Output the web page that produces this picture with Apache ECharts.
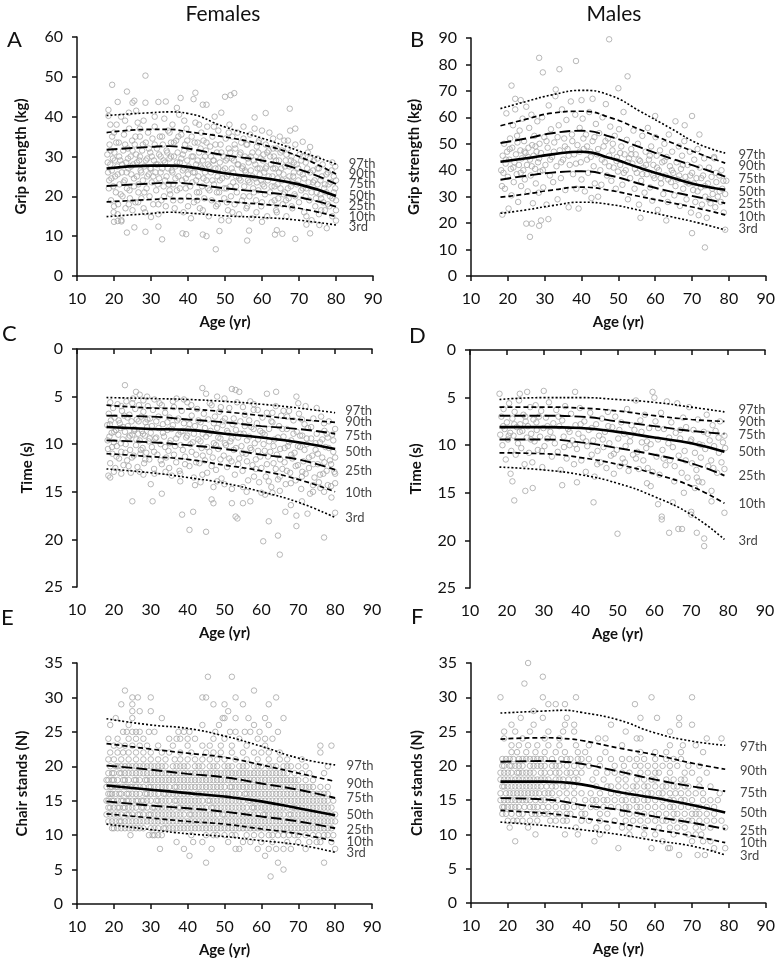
<!DOCTYPE html>
<html><head><meta charset="utf-8">
<script src="https://cdn.jsdelivr.net/npm/echarts@6/dist/echarts.min.js"></script>
<style>html,body{margin:0;padding:0;background:#fff}#c{width:778px;height:964px}</style>
</head><body><div id="c"></div>
<script>
// ---------- DATA ----------
const percentileNames = ['97th','90th','75th','50th','25th','10th','3rd'];
const xTicks = [10,20,30,40,50,60,70,80,90];

// Panel A: Females grip strength
const ageA = [18,30,35,40,50,60,70,80];
const curvesA = [
 [40.3,41.0,41.2,40.8,37.4,34.6,31.4,28.1],
 [36.0,36.8,36.8,36.2,34.9,33.0,30.0,25.6],
 [31.7,32.4,32.6,32.0,30.3,29.0,26.8,23.1],
 [27.0,27.7,27.7,27.4,25.8,24.6,23.0,20.1],
 [22.6,23.2,23.4,23.2,22.0,21.1,19.8,17.4],
 [18.6,19.2,19.4,19.4,18.7,18.0,17.0,14.9],
 [14.9,15.7,16.0,15.8,15.1,14.7,14.0,12.8]];
const labelYA = [28.1,25.6,23.1,20.1,17.6,14.8,12.3];
const labelXA = 83.4;
const pointsA = [
[19.5,48],[21,43.7],[23.5,46.3],[25.5,44],[28.5,50.3],[28.5,43.5],[32,43.7],[34,43.8],[38,44.7],[41.5,44.4],[42,46],[44,43],[45,43],[49,41],[50,45],[51.5,45.4],[52.5,45.9],[58,39.8],[61,40.9],[67.5,42],[69,37],[71,33.7],[73,32.4],[18.5,41.7],[25,43.5],[26,41.5],[37,42.2],
[23.5,10.9],[25.5,12.2],[28.5,11.1],[33,9.2],[38.5,10.7],[39.5,10.5],[44,10.4],[45,10],[47.5,6.7],[48.5,11.3],[51,13.9],[56,8.9],[56.5,11.4],[60,13.6],[63.5,10.4],[64,11.5],[65.5,10.6],[69,9.3],[72,12.9],[73,10.7],[75.5,12.8],[77.5,12],[80,13.9],[20,13.6],[21,13.8],[22,13.7],[30,14.8],[32,12.4],
[18.2,30.5],[18.4,26],[18.6,22],[18.8,33],[19,28],[19.2,19],[19.3,24.5],[19.5,35],[19.7,29.5],[19.9,16],[20.1,31],[20.3,25],[20.5,21],[20.7,38],[20.9,27.5],[21.1,18],[21.3,33.5],[21.5,23],[21.7,29],[21.9,40],[22.1,26],[22.3,20],[22.5,31.5],[22.7,35.5],[22.9,24],[23.1,17],[23.3,28.5],[23.5,22],[23.7,32],[23.9,27],[24.1,37],[24.3,19.5],[24.5,30],[24.7,25.5],[24.9,34],[18.5,40.2],[20,36],[21,15.5],[22,14],[24,41],[25,16.5],
[25.2,28],[25.4,22.5],[25.6,33],[25.8,18.5],[26,30.5],[26.2,25],[26.4,38.5],[26.6,21],[26.8,29],[27,35],[27.2,26.5],[27.4,19.5],[27.6,31.5],[27.8,24],[28,39],[28.2,27.5],[28.4,16],[28.6,33.5],[28.8,22],[29,29.5],[29.2,36],[29.4,25.5],[29.6,20],[29.8,31],[30,27],[30.2,23.5],[30.4,34.5],[30.6,18],[30.8,29],[31,37.5],[31.2,26],[31.4,21.5],[31.6,32],[31.8,28],[32,15.5],[32.2,24.5],[32.4,35],[32.6,30],[32.8,19],[33,27],[33.2,33],[33.4,22.5],[33.6,39.5],[33.8,28.5],[34,17.5],[34.2,25],[34.4,31],[34.6,36.5],[34.8,23],
[35,29.5],[35.2,20.5],[35.4,33.5],[35.6,26.5],[35.8,38],[36,23],[36.2,30],[36.4,17],[36.6,27.5],[36.8,34],[37,21.5],[37.2,31],[37.4,25],[37.6,40.5],[37.8,28.5],[38,19],[38.2,35.5],[38.4,24],[38.6,30.5],[38.8,16],[39,27],[39.2,33],[39.4,22],[39.6,37],[39.8,29],[40,25.5],[40.2,20],[40.4,32],[40.6,27],[40.8,14.5],[41,35],[41.2,23.5],[41.4,30],[41.6,18.5],[41.8,26],[42,38.5],[42.2,28],[42.4,21],[42.6,33.5],[42.8,25],[43,31],[43.2,17],[43.4,27.5],[43.6,36],[43.8,22.5],[44,29],[44.2,34],[44.4,19.5],[44.6,26],[44.8,31.5],
[45,24],[45.2,37.5],[45.4,28],[45.6,15],[45.8,21.5],[46,32.5],[46.2,26],[46.4,19],[46.6,35],[46.8,29],[47,23],[47.2,40],[47.4,27],[47.6,17.5],[47.8,31],[48,25],[48.2,36.5],[48.4,21],[48.6,28.5],[48.8,33],[49,14],[49.2,24.5],[49.6,30],[49.8,19.5],[50,27],[50.2,34.5],[50.4,22],[50.6,29.5],[50.8,16.5],[51,25.5],[51.2,38],[51.4,31],[51.6,20],[51.8,27],[52,35],[52.2,23.5],[52.4,29],[52.6,18],[52.8,32],[53,25],[53.2,21],[53.4,36],[53.6,28],[53.8,15.5],[54,30.5],[54.2,24],[54.4,33.5],[54.6,19],[54.8,27.5],
[55,37.5],[55.2,22.5],[55.4,30],[55.6,26],[55.8,17],[56,33],[56.2,24],[56.4,28.5],[56.6,20],[56.8,35.5],[57,26.5],[57.2,14.5],[57.4,31],[57.6,22],[57.8,29],[58,37],[58.2,24.5],[58.4,19],[58.6,32.5],[58.8,27],[59,21.5],[59.2,34],[59.4,25.5],[59.6,29.5],[59.8,17.5],[60,36.5],[60.2,23],[60.4,30.5],[60.6,26],[60.8,20.5],[61,33],[61.2,27.5],[61.4,15],[61.6,24],[61.8,31.5],[62,36],[62.2,21],[62.4,28],[62.6,18.5],[62.8,25],[63,34.5],[63.2,30],[63.4,22.5],[63.6,27],[63.8,16.5],[64,32],[64.2,24.5],[64.4,19.5],[64.6,29],[64.8,35],
[65,22],[65.2,27],[65.4,31.5],[65.6,18],[65.8,25.5],[66,34],[66.2,21],[66.4,29],[66.6,15],[66.8,24],[67,32],[67.2,19.5],[67.4,27.5],[67.6,36.5],[67.8,22.5],[68,30],[68.2,17],[68.4,25],[68.6,28.5],[68.8,20.5],[69,33],[69.4,23],[69.8,27],[70,18.5],[70.2,30.5],[70.6,21.5],[71,25.5],[71.4,16],[71.8,28.5],[72,22],[72.4,31],[72.8,19],[73,26],[73.4,14],[73.8,23.5],[74,29],[74.4,17.5],[74.8,21],[75,27],[75.4,15.5],[75.8,24],[76,19.5],[76.4,28],[76.8,22],[77,16.5],[77.4,25.5],[77.8,18],[78,23],[78.4,20],[78.8,26.5],[79,15],[79.4,21],[79.8,27.5],[80,19],[80,24]];
const pointsAcore = [
[18.3,28.5],[18.7,24],[19.1,31.5],[19.4,26.5],[19.8,22.5],[20.2,29],[20.6,33.5],[21,25.5],[21.4,30],[21.8,20.5],[22.2,28],[22.6,23.5],[23,33],[23.4,26],[23.8,29.5],[24.2,21.5],[24.6,27.5],[25,31.5],[25.4,24.5],[25.8,35],[26.2,28.5],[26.6,23],[27,30],[27.4,26],[27.8,33],[28.2,21],[28.6,29],[29,25],[29.4,32],[29.8,27],[30.2,30],[30.6,25],[31,33],[31.4,28],[31.8,23],[32.2,30.5],[32.6,26],[33,35],[33.4,29],[33.8,24],[34.2,31.5],[34.6,27],[35,21.5],[35.4,30],[35.8,26],[36.2,33.5],[36.6,24.5],[37,28.5],[37.4,35],[37.8,22],[38.2,29.5],[38.6,26.5],[39,31.5],[39.4,24.5],[39.8,34],[40.2,27.5],[40.6,22.5],[41,30],[41.4,26],[41.8,33.5],[42.2,24],[42.6,29],[43,21],[43.4,32],[43.8,27],[44.2,24.5],[44.6,30],[45,33.5],[45.4,22],[45.8,27.5],[46.2,30],[46.6,24],[47,29],[47.4,33],[47.8,21],[48.2,27],[48.6,24],[49,31],[49.4,26.5],[49.8,22],[50.2,29],[50.6,25],[51,32],[51.4,22.5],[51.8,29.5],[52.2,26],[52.6,33],[53,22.5],[53.4,28],[53.8,24.5],[54.2,31],[54.6,27],[55,20],[55.4,26.5],[55.8,33],[56.2,29.5],[56.6,23.5],[57,30],[57.4,25],[57.8,21],[58.2,28],[58.6,23.5],[59,31],[59.4,27],[59.8,24],[60.2,29],[60.6,22.5],[61,27],[61.4,31],[61.8,25],[62.2,30],[62.6,22.5],[63,27],[63.4,19],[63.8,29],[64.2,23],[64.6,26],[65,31],[65.4,24],[65.8,20.5],[66.2,27.5],[66.6,30.5],[67,22],[67.4,25],[67.8,29],[68.2,23.5],[68.6,26],[69,20],[69.4,28],[69.8,24],[70.2,26],[70.6,29],[71,22],[71.4,24.5],[71.8,20],[72.2,27],[72.6,23.5],[73,29.5],[73.4,21],[73.8,26.5],[74.2,24],[74.6,19.5],[75,23],[75.4,27],[75.8,20.5],[76.2,25],[76.6,18.5],[77,23],[77.4,21],[77.8,26],[78.2,17.5],[78.6,23.5],[79,19.5],[79.4,25],[79.8,22],
[19,38],[23,39],[27,37],[31,40],[35,36],[39,39],[43,38],[47,37.5],[51,36],[55,34.5],[59,33.5],[63,32],[67,34],[71,30],[75,29.5],[79,28.5],[20,17.5],[24,18],[28,17],[32,18],[36,19],[40,17.5],[44,16.5],[48,18],[52,16],[56,17.5],[60,18.5],[64,16],[68,17.5],[72,15],[76,16.5],[80,16.5],[26.5,18.5],[33.5,20],[42.5,19],[50.5,18.5],[58.5,16],[66.5,19]];

// Panel B: Males grip strength
const ageB = [18,25,32,40,48,56,64,72,79];
const curvesB = [
 [63.3,66.0,68.5,70.2,68.2,62.2,56.0,49.8,46.5],
 [56.8,59.3,61.6,62.3,59.8,55.3,50.7,46.2,42.7],
 [50.3,52.0,54.0,54.9,52.6,48.6,44.6,41.0,37.6],
 [43.2,44.5,46.0,47.0,44.5,40.8,37.4,34.3,32.6],
 [36.4,37.9,39.1,39.6,37.9,34.8,32.0,29.7,27.5],
 [29.8,31.0,32.5,33.6,32.3,30.0,27.8,25.5,23.1],
 [23.7,25.0,26.6,27.9,27.0,24.8,22.5,20.0,17.4]];
const labelYB = [45.8,41.7,36.7,31.9,27.3,22.5,17.7];
const labelXB = 82.6;
const pointsB = [
[28.5,82.5],[29.5,77],[34,78.2],[38.5,81.3],[47.5,89.5],[50,71],[52.5,75.5],[21,72],[26,14.8],[25,19.8],[26.5,19.8],[28.5,19],[29,21],[31,21.5],[18.5,23.2],[56,22],[63,21],[70,16.2],[73.5,10.8],[79,17.5],[70,60.5],[60,60.5],[40,66.5],[43,67],[33,70.5],[22,67],[23.5,66.5],[72,53.5],[68,57],[76,45],[78,40],
[18.2,40],[18.4,34],[18.6,45.5],[18.8,39],[19,50],[19.2,33],[19.4,42.5],[19.6,61.5],[19.8,47],[20,37.5],[20.2,25.5],[20.4,44],[20.6,52],[20.8,40.5],[21,30.5],[21.2,48.5],[21.4,57],[21.6,35.5],[21.8,43],[22,63],[22.2,46],[22.4,38.5],[22.6,50.5],[22.8,28],[23,42],[23.2,55],[23.4,47.5],[23.6,34],[23.8,44.5],[24,59.5],[24.2,40],[24.4,51],[24.6,36.5],[24.8,46.5],[25,64],[25.2,42],[25.4,32],[25.6,48.5],[25.8,56],[26,44],[26.2,38],[26.4,61],[26.6,49.5],[26.8,27.5],[27,45.5],[27.2,53],[27.4,40.5],[27.6,35],[27.8,47],[28,58.5],[28.2,43],[28.4,31.5],[28.6,50],[28.8,39.5],
[29,46.5],[29.3,60],[29.6,33.5],[29.9,52.5],[30.2,42],[30.5,27],[30.8,48.5],[31.1,64.5],[31.4,38],[31.7,55.5],[32,45],[32.3,35.5],[32.6,50.5],[32.9,68],[33.2,41.5],[33.5,29],[33.8,57],[34.1,47.5],[34.4,37],[34.7,63],[35,44],[35.3,52],[35.6,32.5],[35.9,59],[36.2,48],[36.5,26],[36.8,42],[37.1,66],[37.4,53.5],[37.7,38.5],[38,46],[38.3,61],[38.6,33],[38.9,49.5],[39.2,25.5],[39.5,56],[39.8,43],[40,36.5],[40.3,59.5],
[40.6,48],[40.9,32],[41.2,53.5],[41.5,44],[41.8,39],[42.1,62],[42.4,47],[42.7,29.5],[43,51],[43.3,41.5],[43.6,35],[43.9,57.5],[44.2,46],[44.5,30],[44.8,54],[45.1,40],[45.4,34.5],[45.7,60],[46,49],[46.3,43],[46.6,65],[46.9,38],[47.2,52],[47.5,45.5],[47.8,56.5],[48.1,36],[48.4,47.5],[48.7,41],[49,53],[49.3,33],[49.6,45],[49.9,39.5],[50.2,55.5],[50.5,42],[50.8,49],[51.1,34.5],[51.4,62],[51.7,46],[52,40],[52.3,51.5],[52.6,29],[52.9,44.5],[53.2,37],[53.5,48],[53.8,42.5],[54.1,55],[54.4,33],[54.7,46],
[55,39],[55.3,50],[55.6,27],[55.9,43.5],[56.2,36],[56.5,53],[56.8,41],[57.1,31.5],[57.4,47],[57.7,38.5],[58,56],[58.3,44],[58.6,33.5],[58.9,49],[59.2,28.5],[59.5,42],[59.8,37],[60.1,52.5],[60.4,45.5],[60.7,25],[61,40],[61.3,47.5],[61.6,35],[61.9,43],[62.2,31],[62.5,50],[62.8,38],[63.1,45],[63.4,28],[63.7,53.5],[64,41.5],[64.3,35.5],[64.6,47],[64.9,39],[65.2,30.5],[65.5,58.5],[65.8,43],[66.1,36.5],[66.4,49],[66.7,26.5],[67,40.5],[67.3,45.5],[67.6,33],[67.9,51],[68.2,37.5],[68.5,29],[68.8,42],[69.1,35],[69.4,47],[69.7,24],[70,39],[70.3,32.5],[70.6,44],[70.9,28],[71.2,37],[71.5,48],[71.8,23],[72.1,41],[72.4,33.5],[72.7,27],[73,38],[73.3,44.5],[73.6,30],[74,22],[74.3,35],[74.6,41],[75,27.5],[75.3,37.5],[75.6,31],[76,44.5],[76.3,26],[76.6,35.5],[77,30],[77.4,38],[77.8,28],[78.2,33],[78.6,24],[79,31],[79.3,36],
[19.5,44],[20.5,48],[21.5,41],[22.5,53],[23.5,39],[24.5,47],[25.5,45],[26.5,41.5],[27.5,49],[28.5,44.5],[29.5,40],[30.5,51],[31.5,44],[32.5,47],[33.5,52.5],[34.5,43],[35.5,49],[36.5,45.5],[37.5,51],[38.5,42.5],[39.5,47],[40.5,52],[41.5,49],[42.5,45],[43.5,52.5],[44.5,48],[45.5,44],[46.5,51],[47.5,41.5],[48.5,50],[49.5,43.5],[50.5,46.5],[51.5,39],[52.5,43],[53.5,46],[54.5,40.5],[55.5,44],[56.5,38.5],[57.5,42],[58.5,45.5],[59.5,38],[60.5,41],[61.5,37],[62.5,43.5],[63.5,36.5],[64.5,40],[65.5,34],[66.5,38],[67.5,42],[68.5,35.5],[69.5,38],[70.5,35],[71.5,32],[72.5,37],[73.5,34],[74.5,29],[75.5,33],[76.5,39],[77.5,32],[78.5,36]];

// Panel C: Females time (s)
const ageC = [18,30,40,50,60,70,80];
const curvesC = [
 [5.1,5.2,5.3,5.5,5.8,6.2,6.7],
 [5.9,6.2,6.3,6.6,7.0,7.4,7.7],
 [7.0,7.1,7.4,7.7,8.1,8.4,8.9],
 [8.2,8.4,8.5,8.9,9.3,9.8,10.5],
 [9.6,9.8,10.1,10.5,11.1,11.6,12.7],
 [11.0,11.3,11.6,12.2,12.8,13.7,15.0],
 [12.6,13.0,13.5,14.1,15.0,16.1,17.7]];
const labelYC = [6.5,7.7,9.1,10.8,12.8,15.1,17.7];
const labelXC = 82.7;
const pointsC = [
[23,3.8],[44,4.1],[45,4.7],[25,16],[30.5,16],[33,15.2],[38.5,17.4],[40.5,19],[41.5,17.1],[45,19.2],[46.5,15.8],[47,16.2],[52,16.2],[53,17.6],[53.5,17.8],[55,16.2],[57,16],[60.5,20.2],[62,18.1],[64.5,19.6],[65,21.6],[66.5,17.1],[69.5,17.5],[69.5,18.6],[72.5,17.3],[77,19.8],[80,17.2],[52,4.2],[53,4.3],[54,4.5],[61.5,4.7],[64,4.5],[69.5,5],[70,5.7],[18.5,13.3],[19,13.5],[22,13.1],[28,13.2],[30,14.2],[35,12.5],[38,13.9],[42,14.3],[43.5,14],[47,14.5],[50,14.2],[56,15],[60,15.1],[61,15.3],[63,15.1],[65,14.9],[68,16.4],[71,16],[74,15],[76,14.6],[78,14.3],[80,14.1],[26,4.5],[27,4.8],[29,5],[31,5.3],[37,5.2],[39,5.3],[48,5],[50,5.2],[57,5.5],[58,5.8],[66,6.5],[72,6],[75,6.2],
[18.2,8],[18.4,10.5],[18.6,6.8],[18.8,9.2],[19,12],[19.2,7.5],[19.4,8.8],[19.6,11],[19.8,6.2],[20,9.8],[20.2,7.2],[20.4,12.5],[20.6,8.5],[20.8,10.2],[21,5.8],[21.2,9],[21.4,11.5],[21.6,7.8],[21.8,8.3],[22,10.8],[22.2,6.5],[22.4,9.5],[22.6,12.2],[22.8,7],[23,8.7],[23.2,10],[23.4,5.5],[23.6,11.7],[23.8,8.1],[24,9.3],[24.2,6.9],[24.4,10.6],[24.6,13],[24.8,7.6],[25,9],[25.2,5.2],[25.4,11.2],[25.6,8.4],[25.8,6.3],[26,10.1],[26.2,7.4],[26.4,12.4],[26.6,8.9],[26.8,5.9],[27,9.6],[27.2,11],[27.4,7.1],[27.6,8.6],[27.8,10.4],[28,6.6],[28.2,12],[28.4,9.1],[28.6,7.7],[28.8,10.9],[29,8.2],[29.2,6],[29.4,9.7],[29.6,11.6],[29.8,7.3],
[30,8.8],[30.3,10.3],[30.6,6.4],[30.9,12.6],[31.2,9.4],[31.5,7.6],[31.8,11.1],[32.1,8.3],[32.4,5.7],[32.7,10],[33,12.1],[33.3,7.9],[33.6,9.2],[33.9,6.7],[34.2,11.4],[34.5,8.5],[34.8,10.7],[35.1,7.2],[35.4,9.6],[35.7,13.3],[36,8],[36.3,6.1],[36.6,10.2],[36.9,11.9],[37.2,7.5],[37.5,9],[37.8,12.8],[38.1,8.7],[38.4,6.5],[38.7,10.6],[39,7.8],[39.3,11.3],[39.6,9.3],[39.9,5.6],[40.2,8.4],[40.5,12.3],[40.8,10],[41.1,7],[41.4,9.8],[41.7,13.5],[42,8.1],[42.3,11.1],[42.6,6.3],[42.9,9.5],[43.2,12],[43.5,7.7],[43.8,10.4],[44.1,8.9],[44.4,6.8],[44.7,11.7],
[45,9.2],[45.3,13],[45.6,7.4],[45.9,10.8],[46.2,8.6],[46.5,5.9],[46.8,11.4],[47.1,9.9],[47.4,7.1],[47.7,12.7],[48,8.3],[48.3,10.5],[48.6,6.6],[48.9,9.4],[49.2,13.6],[49.5,8],[49.8,11.2],[50.1,7.3],[50.4,10.1],[50.7,12.4],[51,8.8],[51.3,6.2],[51.6,9.7],[51.9,11.8],[52.2,7.9],[52.5,10.6],[52.8,13.2],[53.1,8.5],[53.4,5.6],[53.7,9.3],[54,11.5],[54.3,7.6],[54.6,10.2],[54.9,12.8],[55.2,8.9],[55.5,6.9],[55.8,11],[56.1,9.6],[56.4,13.8],[56.7,7.5],[57,10.4],[57.3,8.2],[57.6,12.2],[57.9,6.4],[58.2,9.9],[58.5,11.6],[58.8,7.8],[59.1,10.7],[59.4,14],[59.7,8.6],
[60,12.5],[60.3,7.2],[60.6,10],[60.9,9],[61.2,13.4],[61.5,6.7],[61.8,11.3],[62.1,8.4],[62.4,10.8],[62.7,14.5],[63,7.7],[63.3,12],[63.6,9.5],[63.9,6],[64.2,11.1],[64.5,13.7],[64.8,8.1],[65.1,10.5],[65.4,7],[65.7,12.6],[66,9.2],[66.3,11.9],[66.6,14.2],[66.9,8.4],[67.2,10.2],[67.5,6.5],[67.8,13],[68.1,9.6],[68.4,11.5],[68.7,7.5],[69,10.9],[69.3,13.8],[69.6,8.7],[69.9,12.2],[70.2,6.8],[70.5,10.3],[70.8,14.7],[71.1,9.1],[71.4,11.8],[71.7,7.9],[72,13.1],[72.3,10],[72.6,8.3],[72.9,12.5],[73.2,15.2],[73.5,9.4],[73.8,11.2],[74.1,7.3],[74.4,13.5],[74.7,10.6],[75,8.9],[75.3,12.1],[75.6,14],[75.9,9.8],[76.2,7.1],[76.5,11.4],[76.8,13.1],[77.1,8.6],[77.4,10.3],[77.7,12.8],[78,9.3],[78.3,7.6],[78.6,11.7],[78.9,14.4],[79.2,9],[79.5,10.8],[79.8,12.9],[80,8.4],[80,11.4]];
const pointsCcore = [
[18.3,9.6],[18.9,7.9],[19.5,10.3],[20.1,8.7],[20.7,11.3],[21.3,7.5],[21.9,9.9],[22.5,8.2],[23.1,10.9],[23.7,7.2],[24.3,9.1],[24.9,11.4],[25.5,8.6],[26.1,9.5],[26.7,7.6],[27.3,10.6],[27.9,8.9],[28.5,11.6],[29.1,7.4],[29.7,9.4],[30.3,8.1],[30.9,10.8],[31.5,9.3],[32.1,7.1],[32.7,11.7],[33.3,8.8],[33.9,10.3],[34.5,7.7],[35.1,9.9],[35.7,8.4],[36.3,11.1],[36.9,9.4],[37.5,7.3],[38.1,10.1],[38.7,8.6],[39.3,12.1],[39.9,9.1],[40.5,7.9],[41.1,10.8],[41.7,8.9],[42.3,11.9],[42.9,7.5],[43.5,9.7],[44.1,11.2],[44.7,8.3],[45.3,10.3],[45.9,8.9],[46.5,12.3],[47.1,7.8],[47.7,10.1],[48.3,9.3],[48.9,11.6],[49.5,7.6],[50.1,9.9],[50.7,8.6],[51.3,11.5],[51.9,9.4],[52.5,7.3],[53.1,10.4],[53.7,12.1],[54.3,8.9],[54.9,10.9],[55.5,8.1],[56.1,11.8],[56.7,9.2],[57.3,10.6],[57.9,8.4],[58.5,12.6],[59.1,9.5],[59.7,11.3],[60.3,8.8],[60.9,10.7],[61.5,12.1],[62.1,9.7],[62.7,7.6],[63.3,10.2],[63.9,12.6],[64.5,9.3],[65.1,11.6],[65.7,8.4],[66.3,10.4],[66.9,12.8],[67.5,9.8],[68.1,11.1],[68.7,8.9],[69.3,12.3],[69.9,10.2],[70.5,9.1],[71.1,12.9],[71.7,10.6],[72.3,9.4],[72.9,11.4],[73.5,8.2],[74.1,12.1],[74.7,9.9],[75.3,11],[75.9,13.2],[76.5,9.5],[77.1,11.9],[77.7,8.9],[78.3,10.4],[78.9,12.1],[79.5,9.6],[80,13.1],
[19,5.6],[22,6],[25,5.7],[28,5.4],[33,5.9],[36,5.5],[41,5.9],[46,5.7],[49,6.1],[55,6.1],[59,6.4],[63,6.7],[67,7.1],[71,7.4],[77,7.8],[20,12.9],[24,12.3],[27,12.9],[31,13.1],[34,12.9],[38,13.1],[44,13.2],[48,13.9],[52,14.7],[55,14.5],[58,13.4],[62,13.9],[65,13.4],[68,14.1],[71,13.4],[74,14.3],[77,15],[79,15.6]];

// Panel D: Males time (s)
const ageD = [18,30,40,50,60,70,79];
const curvesD = [
 [5.2,5.0,5.0,5.2,5.5,6.0,6.5],
 [6.0,6.0,6.1,6.4,6.9,7.3,7.5],
 [6.9,6.9,7.0,7.5,8.0,8.5,8.8],
 [8.1,8.1,8.2,8.6,9.2,9.8,10.7],
 [9.4,9.4,9.7,10.3,11.0,11.9,13.2],
 [10.8,10.9,11.3,12.0,13.0,14.3,16.1],
 [12.3,12.6,13.1,14.0,15.4,17.3,19.9]];
const labelYD = [6.3,7.5,8.9,10.7,13.2,16.2,20.0];
const labelXD = 82.8;
const pointsD = [
[18,4.6],[23.5,4.6],[25.5,4.4],[30,4.3],[38.5,4.4],[59.5,4.4],[60,5],[21,13],[22,15.8],[21.5,13.8],[25,14.8],[27,14.5],[35,14.2],[39,13.9],[43.5,16],[50,19.3],[62,17.5],[62,17.8],[64,19.2],[66.5,18.8],[67.5,18.8],[70,17],[70,17.3],[71.5,19.2],[73.5,19.8],[73.5,20.6],[75.5,14.8],[75.5,15.9],[79,17.1],[61,16.2],[59,14.3],[58,14],[65,16],[68,15],[71,14.5],[72,13.8],
[18.2,8.9],[18.5,7],[18.8,10],[19.1,6.2],[19.4,8.3],[19.7,11.5],[20,7.6],[20.3,9.4],[20.6,5.6],[20.9,8.7],[21.2,10.6],[21.5,7.2],[21.8,9],[22.1,6.5],[22.4,11],[22.7,8.1],[23,9.8],[23.3,5.3],[23.6,7.8],[23.9,10.3],[24.2,8.5],[24.5,6.8],[24.8,12],[25.1,7.5],[25.4,9.2],[25.7,8],[26,10.8],[26.3,6],[26.6,8.8],[26.9,11.8],[27.2,7.3],[27.5,9.6],[27.8,5.8],[28.1,8.4],[28.4,10.5],[28.7,7],[29,9.1],[29.3,6.4],[29.6,12.3],[29.9,8.2],
[30.2,10.1],[30.6,7.1],[31,9.3],[31.4,5.5],[31.8,8.6],[32.2,11.2],[32.6,7.7],[33,9.8],[33.4,6.3],[33.8,10.7],[34.2,8],[34.6,12.6],[35,7.4],[35.4,9.1],[35.8,5.9],[36.2,11.4],[36.6,8.3],[37,10],[37.4,6.7],[37.8,9.5],[38.2,12],[38.6,7.9],[39,10.4],[39.4,8.8],[39.8,6.1],[40.2,11.6],[40.6,9.2],[41,7.5],[41.4,12.8],[41.8,10.1],[42.2,8.4],[42.6,6.6],[43,11],[43.4,9.5],[43.8,13.3],[44.2,7.8],[44.6,10.6],
[45,9],[45.4,11.8],[45.8,7.2],[46.2,10.2],[46.6,8.6],[47,12.4],[47.4,6.5],[47.8,9.8],[48.2,11.1],[48.6,8.1],[49,13],[49.4,7],[49.8,10.5],[50.2,9.3],[50.6,12.2],[51,7.6],[51.4,11.4],[51.8,8.8],[52.2,10.1],[52.6,6.2],[53,12.7],[53.4,9.6],[53.8,7.9],[54.2,11],[54.6,8.4],[55,5.3],[55.4,10.7],[55.8,12.5],[56.2,7.4],[56.6,9.7],[57,11.6],[57.4,6.8],[57.8,10.3],[58.2,12.4],[58.6,8.2],[59,9.9],
[60.3,7.5],[60.6,11.2],[61,9.4],[61.4,13.1],[61.8,6.6],[62.2,10.5],[62.6,8.3],[63,12.1],[63.4,5.4],[63.8,9.8],[64.2,11.6],[64.6,7.6],[65,10.2],[65.4,13.8],[65.8,8.7],[66.2,5.6],[66.6,11.1],[67,9.3],[67.4,12.9],[67.8,7.1],[68.2,10.6],[68.6,8.1],[69,13.4],[69.4,6],[69.8,9.6],[70.2,11.9],[70.6,8.4],[71,10.8],[71.4,12.6],[71.8,7.3],[72.2,9.9],[72.6,11.3],[73,13.9],[73.4,8.6],[73.8,10.4],[74.2,6.8],[74.6,12.2],[75,9.5],[75.4,11.6],[75.8,7.9],[76.2,10.1],[76.6,8.5],[77,12.9],[77.4,9.2],[77.8,7.5],[78.2,11.8],[78.6,9.7],[79,12.5],[79.2,10.3],
[19,8],[20.5,9],[22,7.8],[23.5,8.6],[25,7],[26.5,9.4],[28,7.6],[29.5,10.6],[31,8],[32.5,9.2],[34,7],[35.5,10.2],[37,8.6],[38.5,9.9],[40,7.8],[41.5,9.6],[43,8.2],[44.5,12],[46,9.4],[47.5,8],[49,10.9],[50.5,8.4],[52,11.8],[53.5,9],[55,11.4],[56.5,8.6],[58,9.6],[59.5,12.8],[61,8.2],[62.5,11.4],[64,9.2],[65.5,12.2],[67,8.4],[68.5,11.6],[70,9.4],[71.5,13.4],[73,10],[74.5,8.8],[76,12.4],[77.5,10.8],[79,9]];

// Panel E: Females chair stands (integer rows: [value, ages])
const ageE = [18,30,40,50,60,70,80];
const curvesE = [
 [26.9,26.0,25.5,24.4,22.9,21.2,20.2],
 [23.3,22.5,21.9,21.3,20.2,19.0,17.8],
 [20.1,19.5,18.9,18.4,17.5,16.6,15.4],
 [17.2,16.6,16.1,15.6,14.9,13.9,12.9],
 [14.9,14.3,13.9,13.4,12.7,12.0,11.0],
 [13.1,12.5,12.0,11.6,10.9,10.2,9.1],
 [11.6,10.8,10.2,9.8,9.2,8.6,7.5]];
const labelYE = [20.1,17.5,15.4,13.0,10.8,9.1,7.5];
const labelXE = 83.1;
const rowsE = [
[33,[45.5,52]],[31,[23,58]],[30,[25,26.5,30,44,45,53,64]],[29,[22,25,47,50,55,62]],[28,[25,27,30,51]],
[27,[20.5,25,33,49.5,50,53,56.5,61,66]],[26,[19,24,44,48.5,58,62]],
[25,[22.5,23.5,25,26,27,29.5,31,37.5,39,40.5,47.5,51.5,53,55.5,57,59.5,64.5]],
[24,[18.5,21,24,26,28,35,37,38,40,42,47,50,54,59,61,63]],
[23,[20,21.5,23,25,27,29,32,36,40,44,46,49,52,56,61,76,79]],
[22,[19,21,22.5,24,26,28,30,33,35,38,41,45,47,49,52,55,58,60,62,65,76]],
[21,[18.5,20,22,24,26,28,30,32,34,36.5,38,40,42,44,46,48,50,53,56,59,62,65,67,71]],
[20,[19,20.5,22,24,26,28,30,32,34,36,38,40,42,44,46,48,50,52,54,56,58,60,62,64,66,68,70,72,78]],
[19,[18.5,20,21.5,23,25,27,29,31,33,35,37,39,41,43,45,47,49,51,53,55,57,59,61,63,65,67,69,71,73,77]],
[18,[18,19.5,21,22.5,24,25.5,27,28.5,30,32,34,36,38,40,42,44,46,48,50,52,54,56,58,60,62,64,66,68,70,72,74]],
[17,[18,19,20.5,22,23,24.5,26,28,29.5,31,33,35,36.5,38,40,42,44,46,48,50,51.5,53,55,57,59,61,63,65,67,69,71,73,76,78]],
[16,[18.5,19.5,20.5,22,23.5,25,27,28.5,30,32,33.5,35,37,39,41,42.5,44,46,48,50,52,54,55.5,57,59,61,63,65,67,69,71,73,75,77]],
[15,[18,19.5,21,22,23.5,25,26.5,28,30,31.5,33,35,36.5,38,40,42,44,45.5,47,49,51,53,55,56.5,58,60,62,64,66,68,70,72,74,76,78,79.5]],
[14,[18.5,20,21,22.5,24,26,27.5,29,30.5,32,34,36,37.5,39,41,43,45,46.5,48,50,52,54,56,57.5,59,61,63,65,67,68.5,70,72,74,76,78]],
[13,[18,19,20,22,23.5,25,26.5,28,29.5,31,33,35,37,39,40.5,42,44,46,48,49.5,51,53,55,57,59,60.5,62,64,66,67.5,69,71,73,75,77,79]],
[12,[18.5,19.5,20.5,21.5,23,25,27,28,30,32,34,36,38,39,41,43,45,47,49,50,52,54,56,58,59,61,63,65,66,68,70,72,74,76,78,80]],
[11,[19.5,20,21,22,24,26,28,31,33.5,35,36,38,40,42,44,46,48,50,51,53,55,56,58,60,62,64,65,67,69,71,73,75,77,79]],
[10,[24.5,29.5,30.5,31,32,33,41,45,47,48,50,52,53,56,58,60,62,63,64.5,66,67.5,69,70,72,74,75.5,77,78,79.5]],
[9,[37,41.5,44,51,55,57,60,63,67,70,73,75,76,79]],
[8,[32.5,39,46.5,53,54,59,62,64,66,68,72,80]],
[7,[40.5,61]],[6,[45,64.5,77]],[5,[66]],[4,[62.5]]];
const rowsEcore = [
[20,[21,23,25,27,29,31,33,37,39,43,47,51,55,59,63,67]],
[19,[19.5,22,24,26,28,30,32,34,36,38,40,42,44,46,48,50,52,54,56,58,60,62,64,66]],
[18,[18.5,20,23,26,29,31,33,35,37,39,41,43,45,47,49,51,53,55,57,59,61,63,65,67,69]],
[17,[19.5,21,23.5,25,27,30,32,34,37,39,41,43,45,47,49,52,54,56,58,60,62,64,66,68,70,72,74]],
[16,[19,21.5,24,26,29,31,34,36,38,40,43,45,47,49,51,53,56,58,60,62,64,66,68,70,72,74,76,78]],
[15,[18.5,20,22.5,24,26,27.5,29,32,34,37,39,41,43,46,48,50,52,54,57,59,61,63,65,67,69,71,73,75,77]],
[14,[19,21.5,23,25,28,31,33,35,38,40,42,44,47,49,51,53,55,58,60,62,64,66,69,71,73,75,77,79]],
[13,[21,24,27,30,32,34,36,38,41,43,45,47,50,52,54,56,58,61,63,65,68,70,72,74,76,78,80]],
[12,[22,24,26,29,31,33,35,37,40,42,44,46,48,51,53,55,57,60,62,64,67,69,71,73,75,77,79]],
[11,[23,25,27,30,32,34,37,39,41,43,45,47,49,52,54,57,59,61,63,66,68,70,72,74,76,78]]];

// Panel F: Males chair stands
const ageF = [18,30,35,40,50,60,70,79];
const curvesF = [
 [27.7,28.0,28.1,27.8,26.7,24.8,23.6,23.0],
 [23.9,24.1,24.0,23.7,22.6,21.6,20.4,19.5],
 [20.6,20.7,20.6,20.3,19.2,18.0,17.0,16.3],
 [17.7,17.7,17.6,17.3,16.2,15.3,14.3,13.2],
 [15.3,15.1,14.8,14.3,13.6,12.6,11.7,10.8],
 [13.5,13.1,12.8,12.4,11.6,10.7,9.8,8.8],
 [11.8,11.3,11.0,10.7,10.0,9.1,8.3,7.0]];
const labelYF = [22.8,19.3,16.1,13.1,10.5,8.8,6.9];
const labelXF = 83.0;
const rowsF = [
[35,[25.5]],[33,[29.5]],[32,[24.5]],[30,[18,29.5,38.5,59,70]],[29,[31,33,35.5,54.5]],[28,[27]],
[27,[23.5,29.5,36,56,60.5,66.5]],[26,[21,27,35.5,38,48,66.5,70]],[25,[19,22,26,31,35,38,52,64]],
[24,[19,24,30,34,44.5,46.5,55,56,74,78]],
[23,[21,23,25.5,28,31,34,38.5,42,51,64,67.5,71]],
[22,[21,22.5,25,27.5,30,33,35.5,39,41,46.5,56,60,63,67,73]],
[21,[19.5,21.5,24,26,28,30,34.5,37,40,42,48,51,53,57,63,67]],
[20,[19,20.5,22,24,27,29,32,34,38,42,49,51.5,54.5,58,62,66,72]],
[19,[18,20,22.5,24,26,29,31.5,34,37,38.5,44,49,53,56,60,61,70,74]],
[18,[19,21,23,25,27,29,31,34,36.5,39,46,52,57,60,65,68]],
[17,[18.5,20,22,24,26,28,30.5,33,36,47,50,52,55,58,63,66,69,72]],
[16,[18,19.5,21.5,23.5,25.5,27.5,30,32,40,42.5,45,48,52.5,56,59,62,65.5,67,71,77.5]],
[15,[19,21,23,25,27.5,30,33.5,38,43,46,49,52,55,58,62,65,68,73,77]],
[14,[18.5,20,22,24.5,27,29.5,33,36,40,42.5,46,50,53,56,60,64,67,71,74]],
[13,[19.5,23,26.5,28.5,31,34,37,41,45,51,55,59,63,66,70,72,76]],
[12,[21.5,22.5,26,31.5,33,36,42,49,54,56,58,62,65,69,72,74,78]],
[11,[20.5,25.5,38.5,44,47,51,53,57,61,64,66,68,71,73,75,79]],
[10,[27.5,35.5,39,45,53,57,60,65,69,71,72.5]],
[9,[22,43.5,62,70,73,75]],[8,[50,59,63.5,64,76,79]],[7,[66.5,71.5,73.5]]];
const rowsFcore = [
[21,[18.5,20.5,23,25,27,29,32,36,39,45,55,60,65]],
[20,[18.5,21,23,26,28,30,33,36,40,45,56,60,64,69]],
[19,[19,21,23,25,27,30,33,36,40,47,51,58,64,68]],
[18,[18,20,22,24,26,28,30,33,35,38,43,50,55,59,63,67,72]],
[17,[19,21,23,25,27,29,32,35,38,44,48,54,57,60,62,65,68,75]],
[16,[20.5,22.5,24.5,26.5,28.5,31,34,36,38,50,54,58,61,64,69,73]],
[15,[18,20,22,24,26,29,32,36,41,44,47,51,54,57,60,64,67,70,75]],
[14,[19,21,23,26,28,31,35,38,44,48,52,55,58,62,65,69,72,76]],
[13,[18.5,21,24,27.5,30,33,36,40,47,53,57,61,65,68,71,74]],
[12,[20,24,28,35,40,45,52,60,63,67,70,76]]];

// ---------- LAYOUT / STYLE ----------
const FONT = 'Lato, "Open Sans", sans-serif';
const lineStyles = [
 {type:[2,2],width:1.6},{type:[5,3],width:1.7},{type:[11,4],width:1.9},{type:'solid',width:2.6},
 {type:[11,4],width:1.9},{type:[5,3],width:1.7},{type:[2,2],width:1.6}];
const rowsToPoints = rows => rows.flatMap(([v, ages]) => ages.map(a => [a, v]));

const panels = [
 {grid:{left:77,top:37,width:296,height:239}, max:60, step:10, inv:false, yname:'Grip strength (kg)', gap:48,
  pts:pointsA.concat(pointsAcore), ages:ageA, curves:curvesA, labY:labelYA, labX:labelXA},
 {grid:{left:471,top:38,width:295,height:238}, max:90, step:10, inv:false, yname:'Grip strength (kg)', gap:49,
  pts:pointsB, ages:ageB, curves:curvesB, labY:labelYB, labX:labelXB},
 {grid:{left:77,top:349,width:295,height:238}, max:25, step:5, inv:true, yname:'Time (s)', gap:42,
  pts:pointsC.concat(pointsCcore), ages:ageC, curves:curvesC, labY:labelYC, labX:labelXC},
 {grid:{left:470,top:350,width:295,height:238}, max:25, step:5, inv:true, yname:'Time (s)', gap:46,
  pts:pointsD, ages:ageD, curves:curvesD, labY:labelYD, labX:labelXD},
 {grid:{left:77,top:663,width:295,height:241}, max:35, step:5, inv:false, yname:'Chair stands (N)', gap:47,
  pts:rowsToPoints(rowsE).concat(rowsToPoints(rowsEcore)), ages:ageE, curves:curvesE, labY:labelYE, labX:labelXE},
 {grid:{left:471,top:663,width:295,height:240}, max:35, step:5, inv:false, yname:'Chair stands (N)', gap:46,
  pts:rowsToPoints(rowsF).concat(rowsToPoints(rowsFcore)), ages:ageF, curves:curvesF, labY:labelYF, labX:labelXF}
];

const grid=[], xAxis=[], yAxis=[], series=[];
const axisLine = {lineStyle:{color:'#111',width:1.5}};
const axisTick = {length:5, lineStyle:{color:'#111',width:1.5}};
panels.forEach((p,i)=>{
  grid.push(p.grid);
  xAxis.push({type:'value', gridIndex:i, min:xTicks[0], max:xTicks[xTicks.length-1], interval:10,
    axisLine, axisTick, splitLine:{show:false},
    axisLabel:{fontFamily:FONT, fontSize:16, color:'#111', margin:15},
    name:'Age (yr)', nameLocation:'middle', nameGap:39,
    nameTextStyle:{fontFamily:FONT, fontSize:15, fontWeight:'bold', color:'#111'}});
  yAxis.push({type:'value', gridIndex:i, min:0, max:p.max, interval:p.step, inverse:p.inv,
    axisLine:{show:true, ...axisLine}, axisTick:{show:true, ...axisTick}, splitLine:{show:false},
    axisLabel:{fontFamily:FONT, fontSize:16, color:'#111', margin:14},
    name:p.yname, nameLocation:'middle', nameGap:p.gap,
    nameTextStyle:{fontFamily:FONT, fontSize:15, fontWeight:'bold', color:'#111'}});
  series.push({type:'scatter', xAxisIndex:i, yAxisIndex:i, data:p.pts, symbol:'circle', symbolSize:5.5,
    itemStyle:{color:'rgba(255,255,255,0)', borderColor:'#a6a6a6', borderWidth:1}, z:1, silent:true, large:false});
  p.curves.forEach((c,k)=>{
    series.push({type:'line', xAxisIndex:i, yAxisIndex:i, smooth:0.5, showSymbol:false, symbol:'none',
      data:p.ages.map((a,j)=>[a,c[j]]), lineStyle:{color:'#000', ...lineStyles[k]}, z:3, silent:true});
  });
  series.push({type:'scatter', xAxisIndex:i, yAxisIndex:i, symbolSize:0.1, itemStyle:{color:'rgba(0,0,0,0)'},
    data:p.labY.map((y,k)=>[p.labX, y, percentileNames[k]]), z:4, silent:true,
    label:{show:true, position:'right', distance:0, formatter:q=>q.value[2],
      fontFamily:FONT, fontSize:13, color:'#111'}});
});

const txt = (text,x,y,size,align) => ({type:'text', x, y, style:{text, fontFamily:FONT, fontSize:size,
  fill:'#111', textAlign:align, textVerticalAlign:'middle'}});
const graphic = [
  txt('Females',223,14,21,'center'), txt('Males',614,14,21,'center'),
  txt('A',7,40,22,'left'), txt('B',410,40,22,'left'),
  txt('C',2,334,22,'left'), txt('D',409,336,22,'left'),
  txt('E',1,618,22,'left'), txt('F',411,617,22,'left')];

const chart = echarts.init(document.getElementById('c'), null, {renderer:'canvas'});
chart.setOption({animation:false, backgroundColor:'#fff', grid, xAxis, yAxis, series, graphic});
</script>
</body></html>
